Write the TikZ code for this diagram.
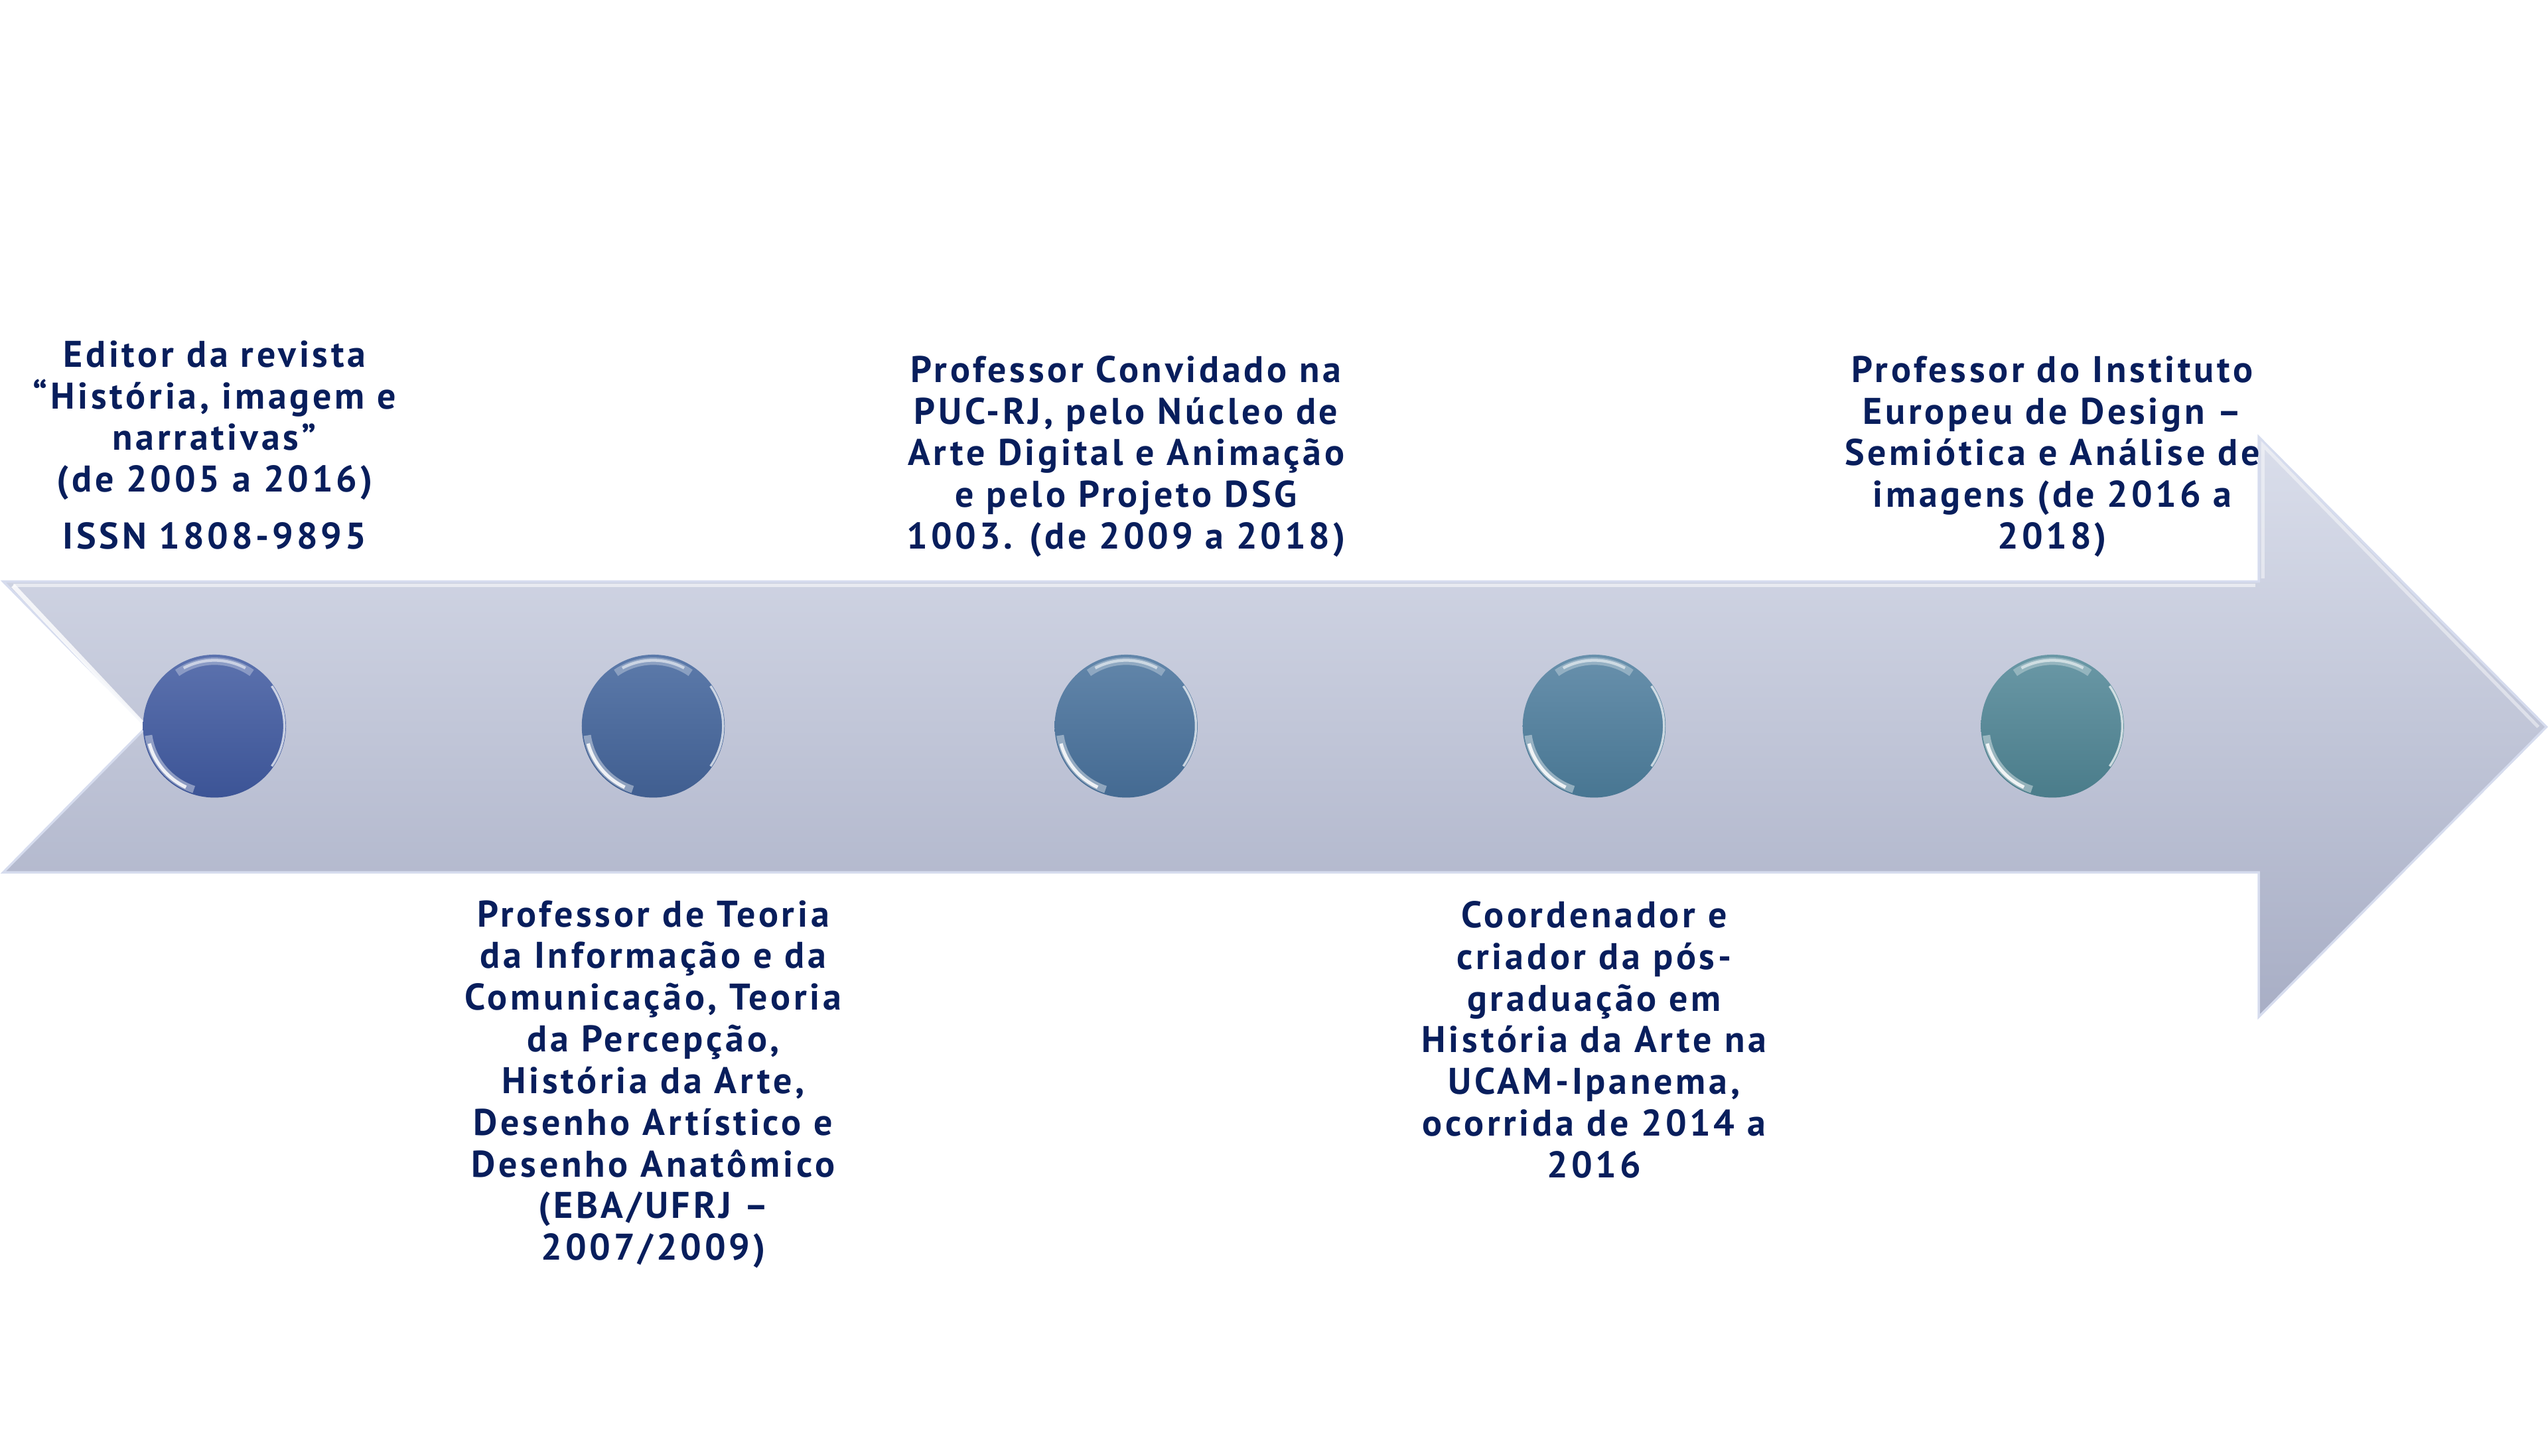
\documentclass[tikz,border=0pt]{standalone}
\usepackage{fontspec}
\setmainfont{PT Sans}[LetterSpace=8.5]
\usetikzlibrary{positioning}

\definecolor{navy}{RGB}{8,30,92}
\definecolor{arrowtop}{RGB}{218,222,235}
\definecolor{arrowbot}{RGB}{168,174,197}
\definecolor{arrowedge}{RGB}{214,220,238}
\definecolor{c1top}{RGB}{92,114,174}
\definecolor{c1bot}{RGB}{60,84,150}
\definecolor{c2top}{RGB}{92,122,170}
\definecolor{c2bot}{RGB}{64,94,144}
\definecolor{c3top}{RGB}{98,134,170}
\definecolor{c3bot}{RGB}{68,106,146}
\definecolor{c4top}{RGB}{104,144,172}
\definecolor{c4bot}{RGB}{72,118,146}
\definecolor{c5top}{RGB}{106,152,166}
\definecolor{c5bot}{RGB}{74,124,138}

\begin{document}
\begin{tikzpicture}[x=0.2mm,y=0.2mm,
    dot/.style={circle,minimum size=17.6mm,inner sep=0pt},
    lbl/.style={align=center,text=navy,font=\fontsize{13}{14.6}\selectfont\bfseries}]
  \useasboundingbox (0,0) rectangle (1568,896);

  % the big arrow
  \shade[top color=arrowtop,bottom color=arrowbot,draw=arrowedge,line width=0.8pt]
    (2,538) -- (1390,538) -- (1390,627) -- (1567,448.5) -- (1390,270)
    -- (1390,359) -- (2,359) -- (90,448.5) -- cycle;
  % light bevel on the upper edges
  \draw[white,opacity=.8,line width=1.6pt] (8,535.5) -- (92,446);
  \draw[white,opacity=.55,line width=1.2pt] (8,535.5) -- (1388,535.5);
  \draw[white,opacity=.45,line width=1.2pt] (1392.5,540) -- (1392.5,622) -- (1562,448.5);

  % dots on the arrow
  \foreach \i/\x in {1/132,2/402,3/693,4/981,5/1263} {
    \node[dot,top color=c\i top,bottom color=c\i bot] (n\i) at (\x,449) {};
    \draw[white,opacity=.3,line width=2.6pt]
      ([shift={(55:40)}]n\i.center) arc[start angle=55,end angle=125,radius=40];
    \draw[white,opacity=.55,line width=1pt]
      ([shift={(62:40.5)}]n\i.center) arc[start angle=62,end angle=118,radius=40.5];
    \draw[white,opacity=.4,line width=2.6pt]
      ([shift={(188:41)}]n\i.center) arc[start angle=188,end angle=252,radius=41];
    \draw[white,opacity=.85,line width=1.2pt]
      ([shift={(195:41.5)}]n\i.center) arc[start angle=195,end angle=245,radius=41.5];
    \draw[white,opacity=.7,line width=0.8pt]
      ([shift={(-35:43)}]n\i.center) arc[start angle=-35,end angle=35,radius=43];
  }

  % labels above and below
  \node[lbl] (t1) at (132,622) {Editor da revista\\
    “História, imagem e\\narrativas”\\(de 2005 a 2016)\\[1.9mm]ISSN 1808-9895};
  \node[lbl] (t2) at (402,228.5) {Professor de Teoria\\da Informação e da\\
    Comunicação, Teoria\\da Percepção,\\História da Arte,\\
    Desenho Artístico e\\Desenho Anatômico\\(EBA/UFRJ –\\2007/2009)};
  \node[lbl] (t3) at (693,615) {Professor Convidado na\\PUC-RJ, pelo Núcleo de\\
    Arte Digital e Animação\\e pelo Projeto DSG\\1003. (de 2009 a 2018)};
  \node[lbl] (t4) at (981,256) {Coordenador e\\criador da pós-\\graduação em\\
    História da Arte na\\UCAM-Ipanema,\\ocorrida de 2014 a\\2016};
  \node[lbl] (t5) at (1263,615) {Professor do Instituto\\Europeu de Design –\\
    Semiótica e Análise de\\imagens (de 2016 a\\2018)};
\end{tikzpicture}
\end{document}
